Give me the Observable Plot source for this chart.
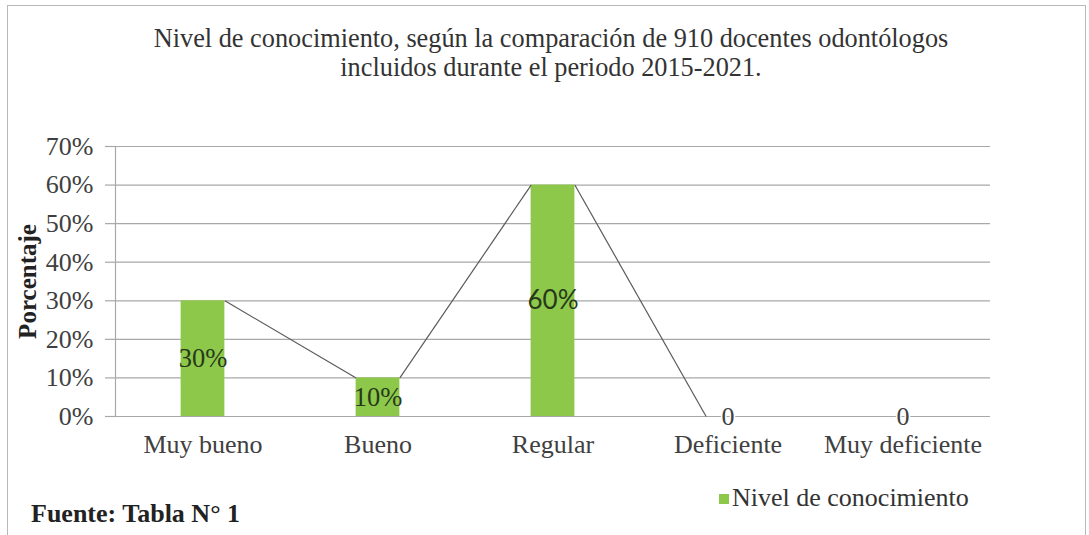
<!DOCTYPE html>
<html>
<head>
<meta charset="utf-8">
<script src="https://cdn.jsdelivr.net/npm/d3@7"></script>
<script src="https://cdn.jsdelivr.net/npm/@observablehq/plot@0.6"></script>
<style>
  html, body { margin: 0; padding: 0; background: #fff; }
  body { width: 1089px; height: 535px; overflow: hidden; position: relative;
         font-family: "Liberation Serif", "Times New Roman", serif; color: #333; }
  #frame { position: absolute; left: 7px; top: 5px; width: 1079px; height: 600px;
           border: 1.5px solid #b8b8b8; box-sizing: border-box; }
  #title { position: absolute; left: 0; top: 24px; width: 1102px; text-align: center;
           font-family: "Liberation Serif", "Times New Roman", serif;
           font-size: 26.3px; line-height: 29px; color: #333; }
  #chart { position: absolute; left: 0; top: 120px; }
  #legend { position: absolute; left: 719px; top: 484px; font-size: 26px; line-height: 28.8px;
            font-family: "Liberation Serif", "Times New Roman", serif;
            color: #333; display: flex; align-items: center; white-space: nowrap; }
  #legend .sw { width: 10px; height: 10px; margin-right: 3px; margin-top: 2px; }
  #source { position: absolute; left: 31px; top: 500px; font-size: 26px; line-height: 28.8px;
            font-family: "Liberation Serif", "Times New Roman", serif;
            font-weight: bold; color: #222; white-space: nowrap; }
</style>
</head>
<body>
<div id="frame"></div>
<div id="title">Nivel de conocimiento, según la comparación de 910 docentes odontólogos<br>incluidos durante el periodo 2015-2021.</div>
<div id="chart"></div>
<div id="legend"></div>
<div id="source"></div>
<script>
// ---- data ----
const categories = ["Muy bueno", "Bueno", "Regular", "Deficiente", "Muy deficiente"];
const values = [30, 10, 60, 0, 0];
const barLabels = ["30%", "10%", "60%", "0", "0"];
const yTicks = [0, 10, 20, 30, 40, 50, 60, 70];
const seriesName = "Nivel de conocimiento";
const yAxisTitle = "Porcentaje";
const sourceText = "Fuente: Tabla N° 1";

// ---- style ----
const barColor = "#8dc84a";
const gridColor = "#a8a8a8";
const textColor = "#404040";
const halfBar = 0.125; // half bar width as a fraction of category band

const data = categories.map((c, i) => ({i, category: c, value: values[i], label: barLabels[i]}));
const segments = data.slice(0, -1).map((d, k) => ({
  x1: d.i + halfBar, y1: d.value,
  x2: data[k + 1].i - halfBar, y2: data[k + 1].value
})).filter(s => s.y1 > 0 || s.y2 > 0);

const chart = Plot.plot({
  width: 1089,
  height: 360,
  marginLeft: 115,
  marginRight: 99,
  marginTop: 26,
  marginBottom: 64,
  style: {fontFamily: "'Liberation Serif', 'Times New Roman', serif", fontSize: "26px", color: textColor, background: "transparent", overflow: "visible"},
  x: {domain: [-0.5, categories.length - 0.5]},
  y: {domain: [0, 70]},
  marks: [
    Plot.gridY(yTicks, {stroke: gridColor, strokeOpacity: 1, strokeWidth: 1.2}),
    Plot.axisY(yTicks, {tickSize: 10, tickPadding: 12, stroke: gridColor, strokeOpacity: 1, strokeWidth: 1.2,
      fill: textColor, tickFormat: d => d + "%", label: null}),
    Plot.axisX(data.map(d => d.i), {tickSize: 0, tickPadding: 18.5, tickFormat: i => categories[i],
      fill: textColor, label: null}),
    Plot.rectY(data, {x1: d => d.i - halfBar, x2: d => d.i + halfBar, y1: 0, y2: "value", fill: barColor}),
    Plot.frame({anchor: "left", stroke: gridColor, strokeWidth: 1.2}),
    Plot.link(segments, {x1: "x1", y1: "y1", x2: "x2", y2: "y2", stroke: "#5a5a5a", strokeWidth: 1.2}),
    Plot.text(data.filter(d => d.value > 0 && d.label !== "60%"), {x: "i", y: d => d.value / 2, text: "label",
      fill: "#26391a", fontSize: 26.5}),
    Plot.text(data.filter(d => d.label === "60%"), {x: "i", y: d => d.value / 2, text: "label",
      fill: "#26391a", fontSize: 26, fontFamily: "Lato, sans-serif"}),
    Plot.text(data.filter(d => d.value === 0), {x: "i", y: "value", text: "label",
      fill: textColor, stroke: "white", strokeWidth: 3, fontSize: 26}),
    Plot.text([yAxisTitle], {frameAnchor: "left", dx: -88, rotate: -90, text: d => d,
      textAnchor: "middle", fontWeight: "bold", fontSize: 25, fill: "#222", lineAnchor: "middle"})
  ]
});
document.getElementById("chart").appendChild(chart);

// legend & source
const leg = document.getElementById("legend");
const sw = document.createElement("span");
sw.className = "sw";
sw.style.background = barColor;
leg.appendChild(sw);
leg.appendChild(document.createTextNode(seriesName));
document.getElementById("source").textContent = sourceText;
</script>
</body>
</html>
